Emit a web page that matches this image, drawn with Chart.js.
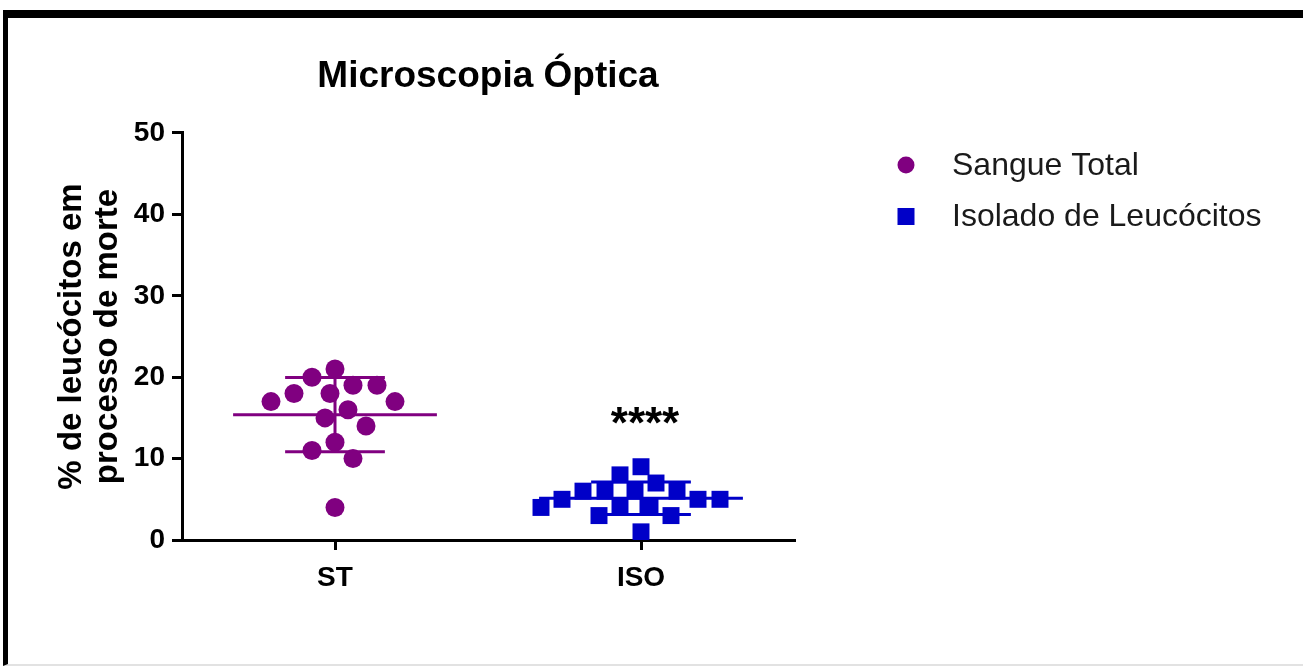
<!DOCTYPE html>
<html>
<head>
<meta charset="utf-8">
<script src="https://cdn.jsdelivr.net/npm/chart.js@4/dist/chart.umd.min.js"></script>
<style>
  html, body { margin: 0; padding: 0; background: #fff; overflow: hidden; }
  #frame {
    position: absolute; left: 3px; top: 10px; width: 1400px; height: 656px;
    box-sizing: border-box;
    border-top: 8px solid #000; border-left: 5px solid #000; border-bottom: 2px solid #e2e2e2;
  }
  #wrap { position: absolute; left: 0; top: 0; width: 1303px; height: 666px; }
</style>
</head>
<body>
<div id="frame"></div>
<div id="wrap"><canvas id="chart" width="1303" height="666"></canvas></div>
<script>
// categorias e séries
const groups = ['ST', 'ISO'];
const seriesNames = ['Sangue Total', 'Isolado de Leucócitos'];

// % de leucócitos em processo de morte
const stValues = [21, 20, 19, 19, 18, 18, 17, 17, 16, 15, 14, 12, 11, 10, 4];
const isoValues = [9, 8, 7, 6, 6, 6, 6, 5, 5, 5, 4, 4, 4, 3, 3, 1];

const yTicks = [0, 10, 20, 30, 40, 50];
const sigLabel = '****';

const FONT = "'Liberation Sans', Arial, sans-serif";
const seriesColors = ['#800080', '#0000c8'];
const seriesStyles = ['circle', 'rect'];
const seriesValues = [stValues, isoValues];

// largura das linhas de média / barras de DP (em unidades de x)
const MEAN_HALF = 0.333;
const CAP_HALF = 0.163;
// distância mínima entre pontos no beeswarm (px)
const SWARM_GAP = [24, 22];

Chart.defaults.font.family = FONT;

function mean(a) { return a.reduce((s, v) => s + v, 0) / a.length; }
function sd(a) {
  const m = mean(a);
  return Math.sqrt(a.reduce((s, v) => s + (v - m) * (v - m), 0) / (a.length - 1));
}

// pontos (posição x corrigida depois pelo beeswarm)
const pointSets = seriesValues.map((vals, g) => ({
  label: seriesNames[g],
  data: vals.map(v => ({ x: g + 1, y: v })),
  pointStyle: seriesStyles[g],
  pointRadius: g === 0 ? 9.5 : 12,
  pointHoverRadius: g === 0 ? 9.5 : 12,
  backgroundColor: seriesColors[g],
  borderColor: seriesColors[g],
  borderWidth: 0,
  showLine: false
}));

// média e desvio padrão
const statSets = seriesValues.map((vals, g) => {
  const c = g + 1, m = mean(vals), s = sd(vals);
  return {
    data: [
      { x: c - MEAN_HALF, y: m }, { x: c + MEAN_HALF, y: m }, { x: c, y: null },
      { x: c - CAP_HALF, y: m + s }, { x: c + CAP_HALF, y: m + s }, { x: c, y: null },
      { x: c, y: m + s }, { x: c, y: m - s }, { x: c, y: null },
      { x: c - CAP_HALF, y: m - s }, { x: c + CAP_HALF, y: m - s }
    ],
    showLine: true,
    spanGaps: false,
    pointRadius: 0,
    borderColor: seriesColors[g],
    borderWidth: 3,
    borderCapStyle: 'butt'
  };
});

// legenda lateral
const sideLegend = {
  id: 'sideLegend',
  afterDraw(chart) {
    const { ctx, chartArea } = chart;
    const mx = chartArea.right + 112;
    const tx = chartArea.right + 158;
    const rows = [chartArea.top + 32, chartArea.top + 83.5];
    ctx.save();
    ctx.font = '32px ' + FONT;
    ctx.textBaseline = 'middle';
    ctx.textAlign = 'left';
    seriesNames.forEach((name, i) => {
      ctx.fillStyle = seriesColors[i];
      if (seriesStyles[i] === 'circle') {
        ctx.beginPath();
        ctx.arc(mx, rows[i], 8.5, 0, Math.PI * 2);
        ctx.fill();
      } else {
        ctx.fillRect(mx - 8.5, rows[i] - 8.5, 17, 17);
      }
      ctx.fillStyle = '#1a1a1a';
      ctx.fillText(name, tx, rows[i] + 1);
    });
    ctx.restore();
  }
};

// asteriscos de significância
const sigMark = {
  id: 'sigMark',
  afterDatasetsDraw(chart) {
    const { ctx, scales } = chart;
    ctx.save();
    ctx.font = 'bold 44px ' + FONT;
    ctx.fillStyle = '#000';
    ctx.textAlign = 'center';
    ctx.textBaseline = 'alphabetic';
    ctx.fillText(sigLabel, scales.x.getPixelForValue(2) + 4, scales.y.getPixelForValue(12.5));
    ctx.restore();
  }
};

const tickFont = { family: FONT, size: 28, weight: 'bold' };

const chart = new Chart(document.getElementById('chart'), {
  type: 'scatter',
  data: { datasets: [...statSets, ...pointSets] },
  options: {
    responsive: false,
    animation: false,
    devicePixelRatio: 1,
    layout: { padding: { left: 54, top: 20, right: 509, bottom: 26 } },
    plugins: {
      legend: { display: false },
      tooltip: { enabled: false },
      title: {
        display: true,
        text: 'Microscopia Óptica',
        fullSize: false,
        color: '#000',
        font: { family: FONT, size: 37, weight: 'bold', lineHeight: 1.135 },
        padding: { top: 36, bottom: 35 }
      }
    },
    scales: {
      x: {
        type: 'linear',
        min: 0.5,
        max: 2.5,
        afterBuildTicks: s => { s.ticks = groups.map((_, i) => ({ value: i + 1 })); },
        afterFit: s => { s.height = 100; },
        ticks: {
          callback: v => groups[v - 1],
          font: tickFont,
          color: '#000',
          padding: 11,
          maxRotation: 0,
          autoSkip: false
        },
        grid: { drawOnChartArea: false, tickLength: 10, lineWidth: 3, color: '#000' },
        border: { color: '#000', width: 3 }
      },
      y: {
        min: 0,
        max: 50,
        afterBuildTicks: s => { s.ticks = yTicks.map(v => ({ value: v })); },
        afterFit: s => { s.width = 128; },
        ticks: { font: tickFont, color: '#000', padding: 7 },
        grid: { drawOnChartArea: false, tickLength: 10, lineWidth: 3, color: '#000' },
        border: { color: '#000', width: 3 },
        title: {
          display: true,
          text: ['% de leucócitos em', 'processo de morte'],
          color: '#000',
          font: { family: FONT, size: 33, weight: 'bold', lineHeight: 1.09 },
          padding: 0
        }
      }
    }
  },
  plugins: [sideLegend, sigMark]
});

// beeswarm: espalha os pontos na horizontal para não se sobreporem
function swarm(chart) {
  const xs = chart.scales.x, ys = chart.scales.y;
  const pxPerUnit = xs.getPixelForValue(1) - xs.getPixelForValue(0);
  pointSets.forEach((ds, g) => {
    const vals = seriesValues[g];
    const diam = SWARM_GAP[g];
    const order = vals.map((_, i) => i).sort((a, b) => vals[b] - vals[a]);
    const placed = [];
    const offs = new Array(vals.length).fill(0);
    order.forEach(i => {
      const py = ys.getPixelForValue(vals[i]);
      for (let k = 0; k < 600; k++) {
        const dx = (k % 2 ? -1 : 1) * Math.ceil(k / 2);
        const hit = placed.some(p => (p.x - dx) ** 2 + (p.y - py) ** 2 < diam * diam);
        if (!hit) {
          placed.push({ x: dx, y: py });
          offs[i] = dx;
          break;
        }
      }
    });
    ds.data = vals.map((v, i) => ({ x: g + 1 + offs[i] / pxPerUnit, y: v }));
  });
  chart.update('none');
}

swarm(chart);
</script>
</body>
</html>
